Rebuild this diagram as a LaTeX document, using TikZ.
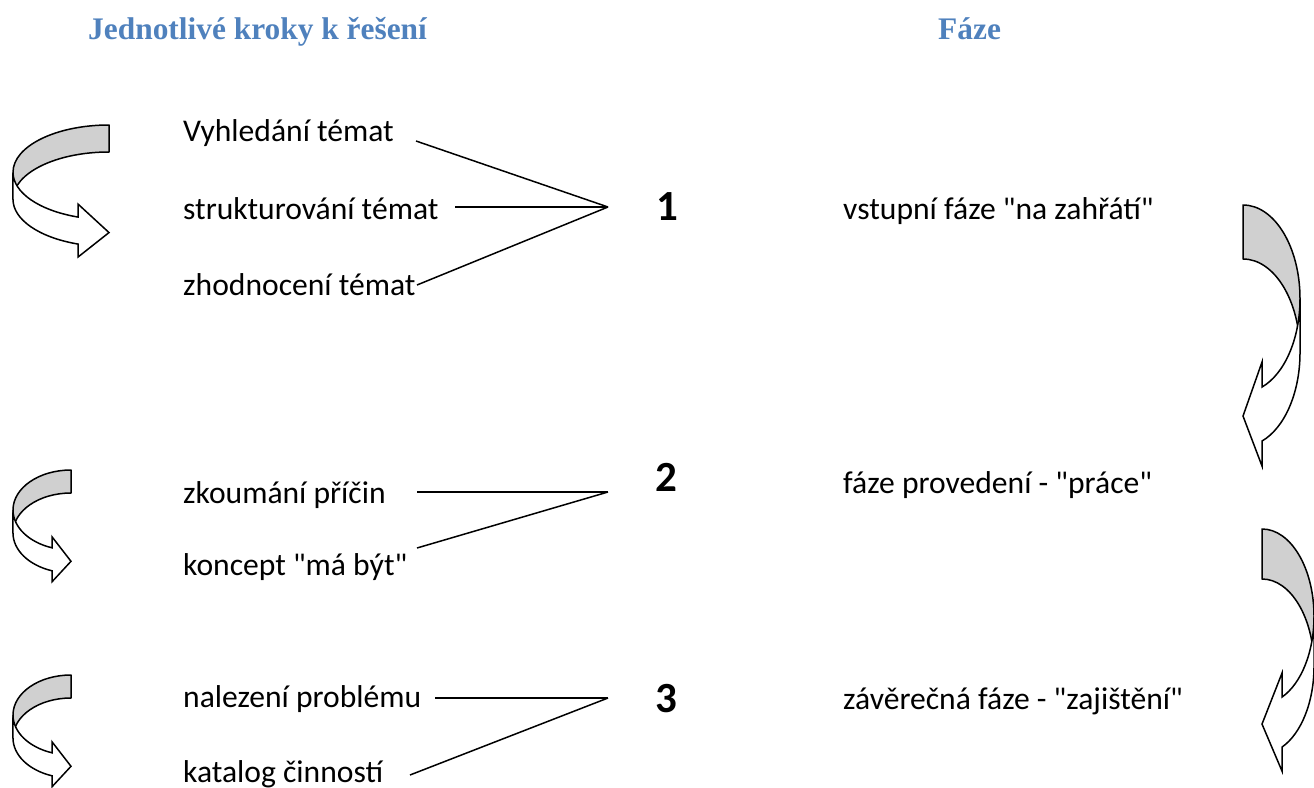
\documentclass[tikz,border=0pt]{standalone}
\usepackage{fontspec}
\newfontfamily\bodyf{Carlito}[Ligatures=TeXOff]
\newfontfamily\headf{Liberation Serif}[Ligatures=TeXOff]
\definecolor{headblue}{RGB}{79,129,189}
\definecolor{backgray}{RGB}{208,208,208}
\tikzset{
 txt/.style={font=\bodyf\fontsize{31.6}{36}\selectfont, anchor=base west, inner sep=0pt},
 numtxt/.style={font=\bodyf\bfseries\fontsize{43}{48}\selectfont, anchor=base west, inner sep=0pt},
 headtxt/.style={font=\headf\bfseries\fontsize{31.4}{36}\selectfont, text=headblue, anchor=base west, inner sep=0pt},
 link/.style={line width=1.5pt, black},
 arrowback/.style={fill=backgray, draw=black, line width=1.5pt, line join=round},
 arrowfront/.style={fill=white, draw=black, line width=1.5pt, line join=miter},
}
% #1 direction (1 = bulge left, -1 = bulge right), #2 #3 centre of outer ellipse,
% #4 #5 radii, #6 band thickness, #7 arrow base offset, #8 barb size
\newcommand{\bentarrow}[8]{%
 \pgfmathsetmacro{\phiang}{acos(-#7/#4)}%
 \pgfmathsetmacro{\yone}{#5*sin(\phiang)}%
 \begin{scope}[shift={(#2,#3)}, xscale=#1]
  \filldraw[arrowback] (0,-#5) arc[start angle=270, end angle=180, x radius=#4, y radius=#5]
     -- (-#4,#6) arc[start angle=180, end angle=270, x radius=#4, y radius=#5] -- cycle;
  \filldraw[arrowfront] (-#4,0) arc[start angle=180, end angle=\phiang, x radius=#4, y radius=#5]
     -- (-#7,\yone-#8) -- (0,\yone+#6/2+2) -- (-#7,\yone+#6+#8) -- (-#7,\yone+#6)
     arc[start angle=\phiang, end angle=180, x radius=#4, y radius=#5] -- cycle;
 \end{scope}}
\begin{document}
\begin{tikzpicture}[x=1pt, y=-1pt]
\useasboundingbox (0,0) rectangle (1314,787);

% headings
\node[headtxt] (h1) at (88,39) {Jednotlivé kroky k řešení};
\node[headtxt] (h2) at (938,39) {Fáze};

% step texts
\node[txt] (t1) at (183,141) {Vyhledání témat};
\node[txt] (t2) at (183,219) {strukturování témat};
\node[txt] (t3) at (183,295) {zhodnocení témat};
\node[txt] (t4) at (183,503) {zkoumání příčin};
\node[txt] (t5) at (183,575) {koncept "má být"};
\node[txt] (t6) at (183,707) {nalezení problému};
\node[txt] (t7) at (183,782) {katalog činností};

% numbers
\node[numtxt] (n1) at (656,220) {1};
\node[numtxt] (n2) at (655,491) {2};
\node[numtxt] (n3) at (655,712) {3};

% phases
\node[txt] (p1) at (843,219) {vstupní fáze "na zahřátí"};
\node[txt] (p2) at (843,493) {fáze provedení - "práce"};
\node[txt] (p3) at (843,709) {závěrečná fáze - "zajištění"};

% connector points
\coordinate (j1) at (608,207);
\coordinate (j2) at (608,492);
\coordinate (j3) at (608,698);
\coordinate (s1) at (416,141);
\coordinate (s2) at (455,207);
\coordinate (s3) at (417,285);
\coordinate (s4) at (417,492);
\coordinate (s5) at (417,548);
\coordinate (s6) at (435,698);
\coordinate (s7) at (410,775);

\draw[link] (s1) -- (j1);
\draw[link] (s2) -- (j1);
\draw[link] (s3) -- (j1);
\draw[link] (s4) -- (j2);
\draw[link] (s5) -- (j2);
\draw[link] (s6) -- (j3);
\draw[link] (s7) -- (j3);

% curved arrows
\bentarrow{1}{109}{172.3}{96}{47.3}{27}{31}{13}
\bentarrow{1}{71}{510}{58}{40}{23}{19}{11}
\bentarrow{1}{71}{715}{58}{40}{23}{19}{11}
\bentarrow{-1}{1243}{298.7}{57}{93.7}{54}{19}{25}
\bentarrow{-1}{1262}{616.4}{52}{87.4}{50}{20}{24}
\end{tikzpicture}
\end{document}
